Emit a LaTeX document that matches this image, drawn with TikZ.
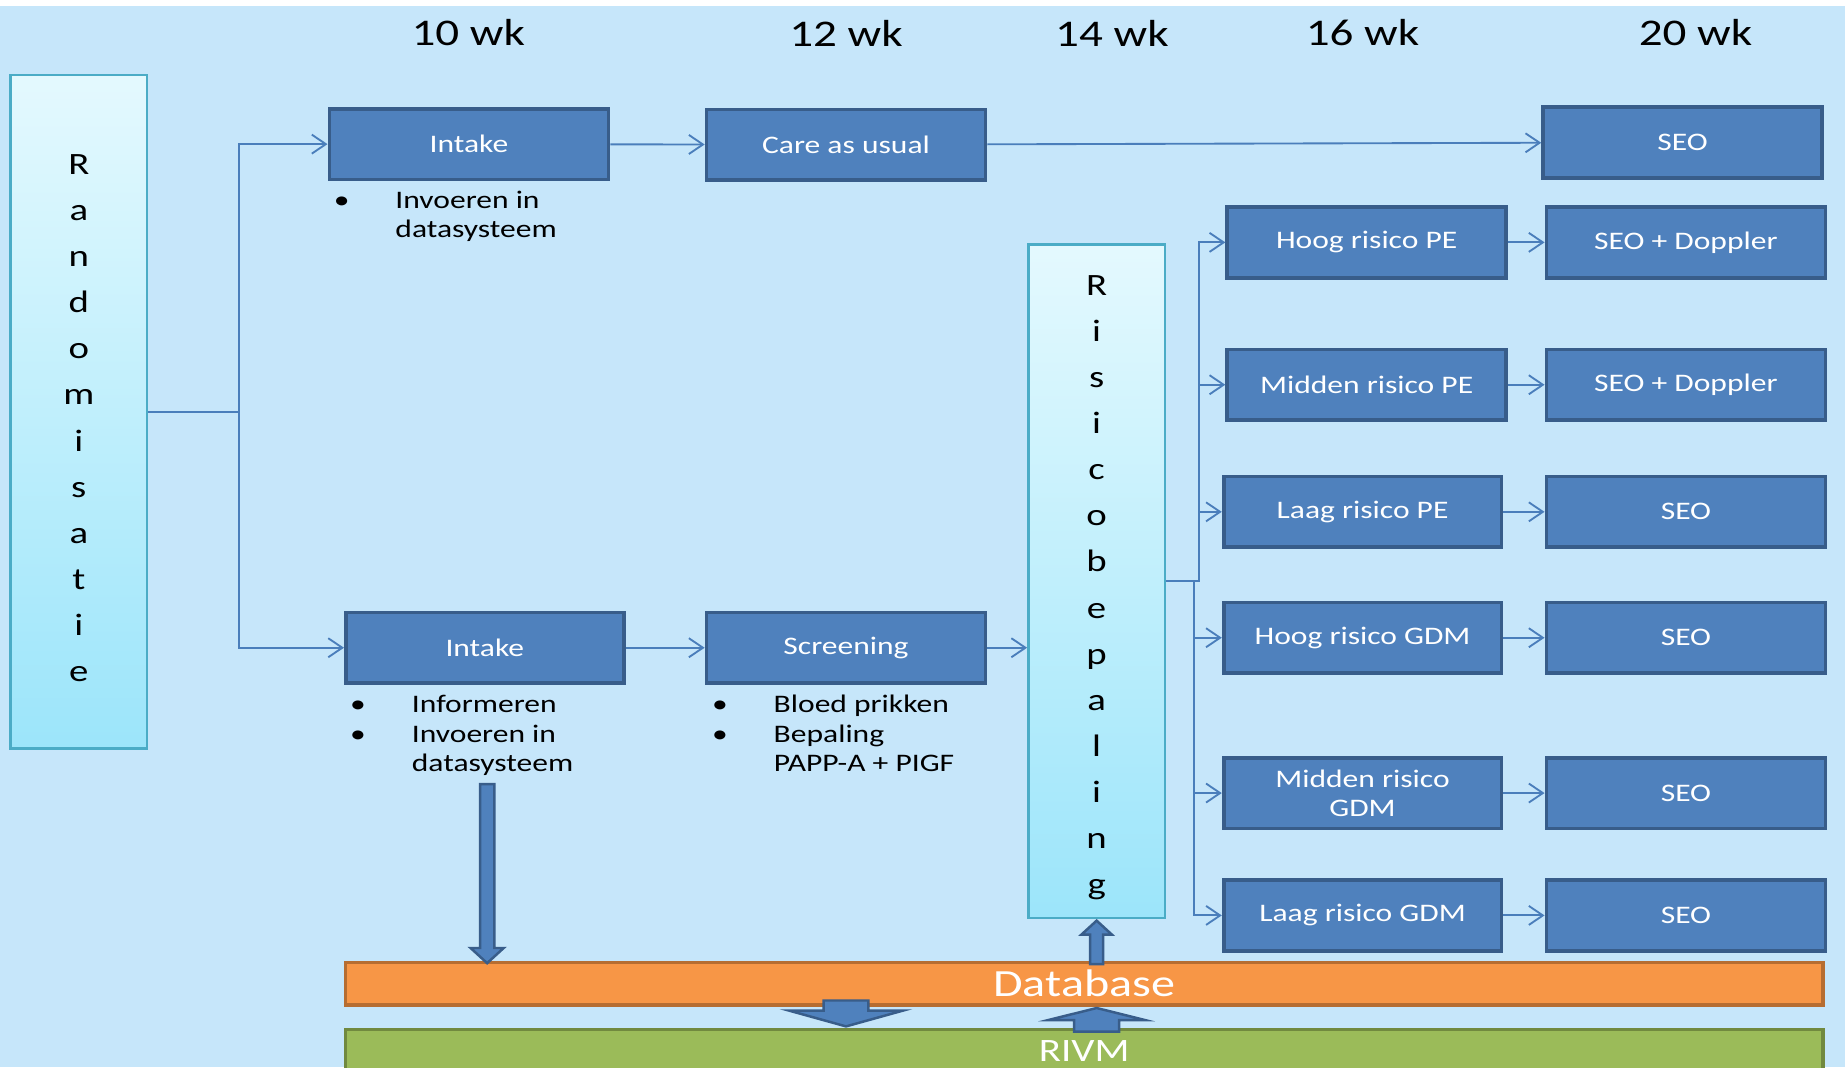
\documentclass[tikz,border=0pt]{standalone}
\usepackage{fontspec}
\setmainfont{Carlito}[FakeStretch=1.25]
\usetikzlibrary{shapes,arrows,arrows.meta,positioning}
\definecolor{bgblue}{HTML}{C6E6FA}
\definecolor{boxfill}{HTML}{4F81BD}
\definecolor{boxline}{HTML}{385D8A}
\definecolor{lineblue}{HTML}{4A7EBB}
\definecolor{tealline}{HTML}{4BACC6}
\definecolor{cyantop}{HTML}{E4F9FE}
\definecolor{cyanbot}{HTML}{9CE5FA}
\definecolor{dbfill}{HTML}{F79646}
\definecolor{dbline}{HTML}{B66D31}
\definecolor{rvfill}{HTML}{9BBB59}
\definecolor{rvline}{HTML}{71893F}
\tikzstyle{block} = [rectangle, draw=boxline, fill=boxfill, line width=0.9pt, text=white, minimum width=2.37cm,
 minimum height=0.6cm, inner sep=0pt, align=center, font=\fontsize{6.1}{7.1}\selectfont]
\tikzstyle{tall} = [rectangle, draw=tealline, line width=0.6pt, top color=cyantop, bottom color=cyanbot,
 minimum width=1.16cm, minimum height=5.72cm, inner sep=0pt, align=center, font=\fontsize{7.5}{11.15}\selectfont]
\tikzstyle{week} = [font=\fontsize{9.1}{10}\selectfont]
\tikzstyle{info} = [inner sep=0pt, font=\fontsize{6.1}{7.1}\selectfont]
\tikzstyle{bar} = [rectangle, line width=0.9pt, minimum width=12.55cm, minimum height=0.36cm, text=white, inner sep=0pt]
\tikzstyle{line} = [draw=lineblue, line width=0.45pt, -{Straight Barb[length=3.4pt,width=4.6pt]}]
\tikzstyle{bigarrow} = [single arrow, draw=boxline, fill=boxfill, line width=0.6pt, inner xsep=0pt, single arrow head indent=0pt]
\begin{document}
\begin{tikzpicture}[x=0.01cm, y=-0.01cm]
        \useasboundingbox (0,0) rectangle (1568,907);
        \clip (0,0) rectangle (1568,907);
        \fill[white] (0,0) rectangle (1568,907);
        \fill[bgblue] (0,5) rectangle (1568,907);

        \node[week] (wk10) at (398,28) {10 wk};
        \node[week] (wk12) at (719,28) {12 wk};
        \node[week] (wk14) at (945,28) {14 wk};
        \node[week] (wk16) at (1158,28) {16 wk};
        \node[week] (wk20) at (1441,28) {20 wk};

        \node[tall] (rand) at (67,350) {\rule{0pt}{7.9pt}R\\a\\n\\d\\o\\m\\i\\s\\a\\t\\i\\e};

        \node[block] (intk1) at (398.5,122.5) {Intake};
        \node[block] (care) at (719,123) {Care as usual};
        \node[block] (seo0) at (1430,121) {SEO};
        \node[info, below right=0.045cm and 0.046cm of intk1.south west] (inf1)
          {\begin{tabular}{@{}p{0.524cm}@{}l@{}}\textbullet & Invoeren in\\ & datasysteem\end{tabular}};

        \node[block, minimum width=2.36cm] (intk2) at (412,550.5) {Intake};
        \node[block] (scrn) at (719,550.5) {Screening};
        \node[info, below right=0.055cm and 0.046cm of intk2.south west] (inf2)
          {\begin{tabular}{@{}p{0.524cm}@{}l@{}}\textbullet & Informeren\\ \textbullet & Invoeren in\\ & datasysteem\end{tabular}};
        \node[info, below right=0.055cm and 0.056cm of scrn.south west] (inf3)
          {\begin{tabular}{@{}p{0.524cm}@{}l@{}}\textbullet & Bloed prikken\\ \textbullet & Bepaling\\ & PAPP-A + PIGF\end{tabular}};

        \node[tall] (risk) at (932,494) {\rule{0pt}{7.9pt}R\\i\\s\\i\\c\\o\\b\\e\\p\\a\\l\\i\\n\\g};

        \node[block] (hpe) at (1161.5,206) {Hoog risico PE};
        \node[block] (mpe) at (1161.5,327) {Midden risico PE};
        \node[block, minimum width=2.36cm] (lpe) at (1158,435) {Laag risico PE};
        \node[block, minimum width=2.36cm] (hgdm) at (1158,542) {Hoog risico GDM};
        \node[block, minimum width=2.36cm] (mgdm) at (1158,674) {Midden risico\\GDM};
        \node[block, minimum width=2.36cm] (lgdm) at (1158,778) {Laag risico GDM};

        \node[block, right=0.31cm of hpe] (seo1) {SEO + Doppler};
        \node[block, right=0.31cm of mpe] (seo2) {SEO + Doppler};
        \node[block, right=0.35cm of lpe] (seo3) {SEO};
        \node[block, right=0.35cm of hgdm] (seo4) {SEO};
        \node[block, right=0.35cm of mgdm] (seo5) {SEO};
        \node[block, right=0.35cm of lgdm] (seo6) {SEO};

        \node[bar, draw=dbline, fill=dbfill, font=\fontsize{9.3}{10}\selectfont] (dbase) at (921.5,836) {Database};
        \node[bar, draw=rvline, fill=rvfill, font=\fontsize{7.9}{9}\selectfont] (rivm) at (921.5,893) {RIVM};

        % block arrows to and from the database
        \node[bigarrow, rotate=-90, minimum height=1.52cm, minimum width=0.26cm, inner ysep=0.05cm,
          single arrow head extend=0.08cm, single arrow tip angle=95, anchor=tip] (arwa) at (414,820) {};
        \node[bigarrow, rotate=90, minimum height=0.37cm, minimum width=0.24cm, inner ysep=0.045cm,
          single arrow head extend=0.075cm, single arrow tip angle=95, anchor=tip] (arwb) at (risk.south |- 0,781) {};
        \node[bigarrow, rotate=-90, minimum height=0.22cm, minimum width=0.95cm, inner ysep=0.18cm,
          single arrow head extend=0.295cm, single arrow tip angle=149, anchor=tip] (arwc) at (scrn.south |- rivm.north) {};
        \node[bigarrow, rotate=90, minimum height=0.20cm, minimum width=0.80cm, inner ysep=0.18cm,
          single arrow head extend=0.22cm, single arrow tip angle=152, anchor=tip] (arwd) at (risk.south |- dbase.south) {};

        \coordinate (fork) at (203,350);
        \coordinate (frkup) at (1019,494);
        \coordinate (frkdn) at (1015,494);

        \path[line] (rand.east) -- (fork) |- (intk1.west);
        \path[line] (fork) |- (intk2.west);
        \path[line] (intk1) -- (care);
        \path[line] (care) -- (seo0);
        \path[line] (intk2) -- (scrn);
        \path[line] (scrn.east) -- (scrn.east -| risk.west);

        \path[line] (risk.east) -- (frkup) |- (hpe.west);
        \path[line] (frkup) |- (mpe.west);
        \path[line] (frkup) |- (lpe.west);
        \path[line] (risk.east) -- (frkdn) |- (hgdm.west);
        \path[line] (frkdn) |- (mgdm.west);
        \path[line] (frkdn) |- (lgdm.west);

        \path[line] (hpe) -- (seo1);
        \path[line] (mpe) -- (seo2);
        \path[line] (lpe) -- (seo3);
        \path[line] (hgdm) -- (seo4);
        \path[line] (mgdm) -- (seo5);
        \path[line] (lgdm) -- (seo6);
\end{tikzpicture}
\end{document}
